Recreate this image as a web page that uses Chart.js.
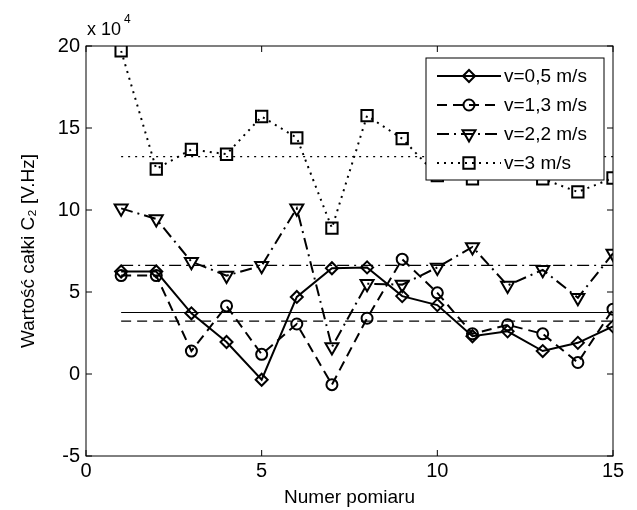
<!DOCTYPE html>
<html>
<head>
<meta charset="utf-8">
<script src="https://cdn.jsdelivr.net/npm/chart.js@4/dist/chart.umd.min.js"></script>
<style>
  html, body { margin: 0; padding: 0; background: #fff; }
</style>
</head>
<body>
<canvas id="c" width="637" height="510"></canvas>
<script>
// numer pomiaru (x) and values in units of 10^4
const pomiar = [1, 2, 3, 4, 5, 6, 7, 8, 9, 10, 11, 12, 13, 14, 15];
const v05 = [6.25, 6.25, 3.7, 1.95, -0.35, 4.7, 6.45, 6.5, 4.75, 4.2, 2.3, 2.6, 1.4, 1.9, 2.9];
const v13 = [6.0, 6.0, 1.4, 4.15, 1.2, 3.05, -0.65, 3.4, 7.0, 4.95, 2.45, 3.0, 2.45, 0.7, 3.95];
const v22 = [10.1, 9.45, 6.85, 6.0, 6.6, 10.1, 1.65, 5.5, 5.45, 6.5, 7.75, 5.4, 6.35, 4.65, 7.35];
const v30 = [19.7, 12.5, 13.7, 13.4, 15.7, 14.4, 8.9, 15.75, 14.35, 12.1, 11.9, 12.6, 11.9, 11.1, 11.95];
const means = [3.75, 3.22, 6.62, 13.25];
const names = ['v=0,5 m/s', 'v=1,3 m/s', 'v=2,2 m/s', 'v=3 m/s'];
const xTicks = [0, 5, 10, 15];
const yTicks = [-5, 0, 5, 10, 15, 20];

const FONT = "'Liberation Sans', Arial, sans-serif";
const styles = [
  { dash: [], marker: 'rectRot', r: 6, rot: 0 },
  { dash: [10, 6], marker: 'circle', r: 5.5, rot: 0 },
  { dash: [12, 5, 2, 5], marker: 'triangle', r: 7.5, rot: 180 },
  { dash: [2, 5], marker: 'rect', r: 8, rot: 0 }
];
const series = [v05, v13, v22, v30];

const datasets = [];
series.forEach((vals, i) => {
  const s = styles[i];
  datasets.push({
    label: names[i],
    data: vals.map((v, k) => ({ x: pomiar[k], y: v })),
    borderColor: '#000',
    borderWidth: 2,
    borderDash: s.dash,
    pointStyle: s.marker,
    pointRadius: s.r,
    pointRotation: s.rot,
    pointBorderWidth: 2,
    pointBorderColor: '#000',
    pointBackgroundColor: 'rgba(0,0,0,0)',
    tension: 0
  });
});
means.forEach((m, i) => {
  datasets.push({
    label: 'mean ' + names[i],
    data: [{ x: pomiar[0], y: m }, { x: pomiar[pomiar.length - 1], y: m }],
    borderColor: '#000',
    borderWidth: 1.2,
    borderDash: styles[i].dash,
    pointRadius: 0
  });
});

// box, inward ticks, "x 10^4" and MATLAB-like legend
const matlabAxes = {
  id: 'matlabAxes',
  afterDatasetsDraw(chart) {
    const { ctx, chartArea: a, scales } = chart;
    ctx.save();
    ctx.strokeStyle = '#000';
    ctx.lineWidth = 1;
    ctx.setLineDash([]);
    ctx.strokeRect(a.left, a.top, a.right - a.left, a.bottom - a.top);
    ctx.beginPath();
    xTicks.forEach(t => {
      const px = scales.x.getPixelForValue(t);
      ctx.moveTo(px, a.bottom); ctx.lineTo(px, a.bottom - 6);
      ctx.moveTo(px, a.top); ctx.lineTo(px, a.top + 6);
    });
    yTicks.forEach(t => {
      const py = scales.y.getPixelForValue(t);
      ctx.moveTo(a.left, py); ctx.lineTo(a.left + 6, py);
      ctx.moveTo(a.right, py); ctx.lineTo(a.right - 6, py);
    });
    ctx.stroke();

    ctx.fillStyle = '#000';
    ctx.textBaseline = 'alphabetic';
    ctx.font = '18px ' + FONT;
    ctx.fillText('x 10', 87, 35);
    ctx.font = '12px ' + FONT;
    ctx.fillText('4', 124, 23);

    // legend
    const lx = 426, ly = 58, lw = 178, lh = 122;
    ctx.fillStyle = '#fff';
    ctx.fillRect(lx, ly, lw, lh);
    ctx.strokeRect(lx, ly, lw, lh);
    const rows = [76, 105, 134, 163];
    rows.forEach((ry, i) => {
      const s = styles[i];
      ctx.strokeStyle = '#000';
      ctx.lineWidth = 2;
      ctx.setLineDash(s.dash);
      ctx.beginPath();
      ctx.moveTo(437, ry); ctx.lineTo(501, ry);
      ctx.stroke();
      ctx.setLineDash([]);
      ctx.fillStyle = 'rgba(0,0,0,0)';
      Chart.helpers.drawPoint(ctx, { pointStyle: s.marker, radius: s.r, rotation: s.rot, borderWidth: 2 }, 469, ry);
      ctx.fillStyle = '#000';
      ctx.font = '19px ' + FONT;
      ctx.textBaseline = 'middle';
      ctx.fillText(names[i], 504, ry + 1);
    });
    ctx.restore();
  }
};

new Chart(document.getElementById('c'), {
  type: 'line',
  data: { datasets },
  options: {
    responsive: false,
    devicePixelRatio: 1,
    animation: false,
    layout: { padding: { top: 46, right: 24, left: 0, bottom: 0 } },
    plugins: { legend: { display: false }, tooltip: { enabled: false } },
    scales: {
      x: {
        type: 'linear', min: 0, max: 15,
        afterBuildTicks: s => { s.ticks = xTicks.map(v => ({ value: v })); },
        afterFit: s => { s.height = 54; },
        grid: { display: false, drawTicks: false },
        border: { display: false },
        ticks: { color: '#000', font: { family: FONT, size: 20 }, padding: 3 },
        title: { display: true, text: 'Numer pomiaru', color: '#000',
                 font: { family: FONT, size: 19 }, padding: { top: 0, bottom: 1 } }
      },
      y: {
        type: 'linear', min: -5, max: 20,
        afterBuildTicks: s => { s.ticks = yTicks.map(v => ({ value: v })); },
        afterFit: s => { s.width = 86; },
        grid: { display: false, drawTicks: false },
        border: { display: false },
        ticks: { color: '#000', font: { family: FONT, size: 20 }, padding: 6 },
        title: { display: true, text: 'Wartość całki C₂ [V.Hz]', color: '#000',
                 font: { family: FONT, size: 19 }, padding: { top: 17, bottom: 0 } }
      }
    }
  },
  plugins: [matlabAxes]
});
</script>
</body>
</html>
